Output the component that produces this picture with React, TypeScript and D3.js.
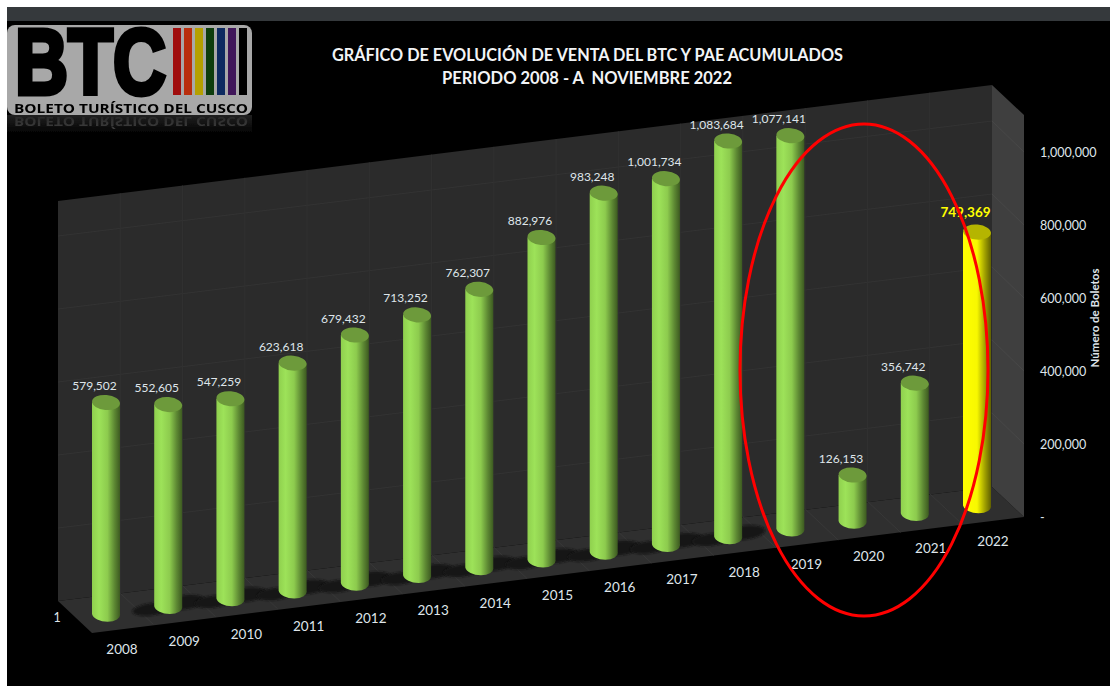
import React from "react";
import * as d3 from "d3";

const years = ["2008","2009","2010","2011","2012","2013","2014","2015","2016","2017","2018","2019","2020","2021","2022"];
const sales = [579502,552605,547259,623618,679432,713252,762307,882976,983248,1001734,1083684,1077141,126153,356742,749369];
const axisTicks = [0,200000,400000,600000,800000,1000000];
const shadowYears = ["2009","2010","2011","2012","2013","2014","2015","2016","2017","2018"];
const stripeColors = ["#a00f0f","#b92e08","#b5a000","#0f3d10","#0a2a60","#40145a","#050505"];
const titleLines = ["GRÁFICO DE EVOLUCIÓN DE VENTA DEL BTC Y PAE ACUMULADOS","PERIODO 2008 - A  NOVIEMBRE 2022"];
const logoName = "BOLETO TURÍSTICO DEL CUSCO";

const FONT = "Lato, 'Open Sans', sans-serif";
const TXT = "#dfe5ea";
const SLOPE = -116 / 932;
const x = d3.scalePoint<string>().domain(years).range([106, 977]);
const h = d3.scaleLinear().domain([0, 1000000]).range([0, 365]);
const baseAt = (px: number) => 614 + (px - 106) * SLOPE;
const backFloor = d3.scaleLinear().domain([58, 992]).range([601, 486]);
const fmt = d3.format(",");
const BW = 14, RY = 7.5;

export default function App() {
  const dividers = d3.range(1, 15).map(i => 58 + (934 / 15) * i);
  return (
    <svg width={1110} height={686} style={{ position: "fixed", left: 0, top: 0, background: "#fff" }}>
      <defs>
        <linearGradient id="g" x1="0" x2="1" y1="0" y2="0">
          <stop offset="0" stopColor="#8fd04e" />
          <stop offset="0.25" stopColor="#9de259" />
          <stop offset="0.55" stopColor="#8dcb4e" />
          <stop offset="0.8" stopColor="#5d8833" />
          <stop offset="1" stopColor="#3c5920" />
        </linearGradient>
        <linearGradient id="y" x1="0" x2="1" y1="0" y2="0">
          <stop offset="0" stopColor="#ffff00" />
          <stop offset="0.5" stopColor="#f8f800" />
          <stop offset="0.78" stopColor="#a0a000" />
          <stop offset="1" stopColor="#5f5f00" />
        </linearGradient>
        <linearGradient id="refl" x1="0" x2="0" y1="0" y2="1">
          <stop offset="0" stopColor="#5a5a5a" />
          <stop offset="1" stopColor="#000" />
        </linearGradient>
        <filter id="soft"><feGaussianBlur stdDeviation="0.6" /></filter>
        <filter id="sh"><feGaussianBlur stdDeviation="0.8" /></filter>
      </defs>

      {/* page */}
      <rect x={7} y={7} width={1103} height={679} fill="#000" />
      <rect x={7} y={7} width={1103} height={14} fill="#35393c" />

      {/* walls */}
      <polygon points="58,201 992,85 992,487 58,601" fill="#2b2b2b" />
      <polygon points="58,601 992,487 1024,517 92,633" fill="#2f2f2f" />
      <polygon points="992,85 1024,115 1024,517 992,487" fill="#3f3f3f" />

      {/* grid */}
      {axisTicks.slice(1).map(t => (
        <g key={t} stroke="#333333" strokeWidth={1} fill="none">
          <line x1={58} x2={992} y1={backFloor(58) - h(t)} y2={backFloor(992) - h(t)} />
          <line x1={992} x2={1024} y1={backFloor(992) - h(t)} y2={517 - h(t)} stroke="#484848" />
        </g>
      ))}
      {dividers.map(d => (
        <g key={d} stroke="#313131" strokeWidth={1}>
          <line x1={d} x2={d} y1={201 + ((d - 58) * -116) / 934} y2={backFloor(d)} />
          <line x1={d} x2={d + 33} y1={backFloor(d)} y2={backFloor(d) + 31} stroke="#383838" />
        </g>
      ))}

      {/* floor shadows */}
      {shadowYears.map(yr => {
        const cx = x(yr)!;
        const cy = baseAt(cx);
        return (
          <g key={yr} fill="#161616" filter="url(#sh)">
            <ellipse cx={cx - 16} cy={cy + 3} rx={20} ry={6} transform={`rotate(-7 ${cx - 16} ${cy + 3})`} />
            <ellipse cx={cx + 17} cy={cy - 4} rx={20} ry={7} transform={`rotate(-7 ${cx + 17} ${cy - 4})`} />
          </g>
        );
      })}

      {/* cylinders */}
      {years.map((yr, i) => {
        const cx = x(yr)!;
        const base = baseAt(cx);
        const top = base - h(sales[i]);
        const last = i === years.length - 1;
        return (
          <g key={yr}>
            <path
              d={`M${cx - BW},${top} L${cx - BW},${base} A${BW},${RY} 5 0 0 ${cx + BW},${base} L${cx + BW},${top} Z`}
              fill={last ? "url(#y)" : "url(#g)"}
            />
            <ellipse cx={cx} cy={top} rx={BW} ry={RY} fill={last ? "#b5b500" : "#6d9a3b"} transform={`rotate(5 ${cx} ${top})`} />
          </g>
        );
      })}

      {/* value labels */}
      {years.map((yr, i) => {
        const cx = x(yr)!;
        const top = baseAt(cx) - h(sales[i]);
        const last = i === years.length - 1;
        return (
          <text key={yr} x={cx - 11.5} y={top - (last ? 15 : 12.5)} textAnchor="middle"
            fontFamily={FONT} fontSize={last ? 13.5 : 12} fontWeight={last ? 700 : 400} fill={last ? "#ffff00" : TXT}>
            {fmt(sales[i])}
          </text>
        );
      })}

      {/* category labels */}
      {years.map(yr => {
        const cx = x(yr)!;
        return (
          <text key={yr} x={cx + 16} y={baseAt(cx) + 40} textAnchor="middle" fontFamily={FONT} fontSize={13.5} fill={TXT}>{yr}</text>
        );
      })}
      <text x={57} y={622} textAnchor="middle" fontFamily={FONT} fontSize={12.5} fill={TXT}>1</text>

      {/* value axis */}
      {axisTicks.map(t => (
        <text key={t} x={1040} y={517 - h(t) + 4.5} fontFamily={FONT} fontSize={12.5} fill={TXT}>
          {t === 0 ? "-" : fmt(t)}
        </text>
      ))}
      <text transform="translate(1099,318) rotate(-90)" textAnchor="middle" fontFamily={FONT} fontSize={11.5} fontWeight={700} fill={TXT}>Número de Boletos</text>

      {/* title */}
      <text x={587.5} y={61} textAnchor="middle" fontFamily={FONT} fontSize={16.5} fontWeight={700} fill="#f2f4f6" textLength={511} lengthAdjust="spacingAndGlyphs">{titleLines[0]}</text>
      <text x={587} y={84} textAnchor="middle" fontFamily={FONT} fontSize={16.5} fontWeight={700} fill="#f2f4f6" xmlSpace="preserve" textLength={290} lengthAdjust="spacingAndGlyphs">{titleLines[1]}</text>

      {/* logo */}
      <g filter="url(#soft)">
        <rect x={7} y={25} width={245} height={90} rx={8} fill="#a8a8a8" />
        <text x={15} y={94} fontFamily="'Liberation Sans', Arial, sans-serif" fontWeight={700} fontSize={92} fill="#000" stroke="#000" strokeWidth={5} strokeLinejoin="miter" textLength={151} lengthAdjust="spacingAndGlyphs">BTC</text>
        {stripeColors.map((c, i) => (
          <rect key={c} x={173 + i * 11} y={28} width={8} height={67} fill={c} />
        ))}
        <text x={14} y={113} fontFamily="'Open Sans', sans-serif" fontWeight={700} fontSize={13} fill="#000" textLength={234} lengthAdjust="spacingAndGlyphs">{logoName}</text>
        <text x={14} y={-117} transform="scale(1,-1)" fontFamily="'Open Sans', sans-serif" fontWeight={700} fontSize={13} fill="url(#refl)" textLength={234} lengthAdjust="spacingAndGlyphs">{logoName}</text>
        <rect x={7} y={115} width={245} height={20} fill="url(#refl)" opacity={0.35} />
      </g>

      {/* red highlight */}
      <ellipse cx={864} cy={370} rx={124} ry={246} fill="none" stroke="#ff0000" strokeWidth={3} />
    </svg>
  );
}
